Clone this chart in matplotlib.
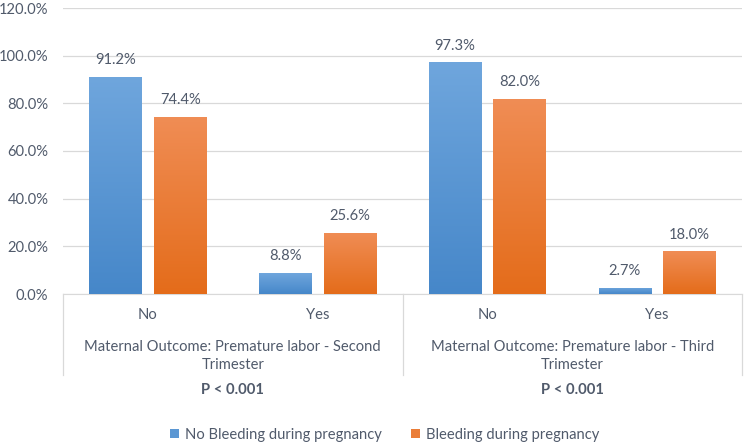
import numpy as np
import matplotlib
matplotlib.use("Agg")
import matplotlib.pyplot as plt
from matplotlib.colors import LinearSegmentedColormap
from matplotlib.ticker import FuncFormatter

plt.rcParams['font.family'] = ['Lato', 'DejaVu Sans']

# data
outcome = ["No", "Yes", "No", "Yes"]
groups = ["Maternal Outcome: Premature labor - Second\nTrimester",
          "Maternal Outcome: Premature labor - Third\nTrimester"]
p_values = ["P < 0.001", "P < 0.001"]
no_bleeding = [91.2, 8.8, 97.3, 2.7]
bleeding = [74.4, 25.6, 82.0, 18.0]
series_names = ["No Bleeding during pregnancy", "Bleeding during pregnancy"]

txt_col = "#505A6B"
grid_col = "#D9D9D9"
fs = 10.6
W, H = 752, 445

fig = plt.figure(figsize=(W / 100, H / 100), dpi=100)
ax = fig.add_axes([63 / W, 1 - 294 / H, (742 - 63) / W, (294 - 8) / H])

x = np.arange(len(outcome))
bw = 0.31
off = 0.19

blue_cm = LinearSegmentedColormap.from_list("b", ["#4687C9", "#6FA6DD"])
orange_cm = LinearSegmentedColormap.from_list("o", ["#E46C1A", "#F08D55"])


def grad_bars(xs, vals, cmap, label):
    bars = ax.bar(xs, vals, width=bw, color=cmap(0.5), label=label, zorder=2)
    grad = np.linspace(0, 1, 256).reshape(-1, 1)
    for b in bars:
        x0, y0 = b.get_x(), b.get_y()
        im = ax.imshow(grad, cmap=cmap, origin="lower", aspect="auto",
                       extent=[x0, x0 + b.get_width(), y0, y0 + b.get_height()],
                       zorder=3)
        im.set_clip_path(b)
    return bars


b1 = grad_bars(x - off, no_bleeding, blue_cm, series_names[0])
b2 = grad_bars(x + off, bleeding, orange_cm, series_names[1])

for xs, vals in [(x - off, no_bleeding), (x + off, bleeding)]:
    for xi, v in zip(xs, vals):
        ax.text(xi, v + 4.0, f"{v:.1f}%", ha="center", va="bottom",
                fontsize=fs, color=txt_col)

ax.set_xlim(-0.5, len(outcome) - 0.5)
ax.set_ylim(0, 120)
ax.set_yticks(np.arange(0, 121, 20))
ax.yaxis.set_major_formatter(FuncFormatter(lambda v, p: f"{v:.1f}%"))
ax.tick_params(axis="y", length=0, labelsize=fs, labelcolor=txt_col, pad=10.5)
ax.set_xticks([])
ax.grid(axis="y", color=grid_col, linewidth=0.9, zorder=0)
ax.set_axisbelow(True)
for s in ["top", "right", "left"]:
    ax.spines[s].set_visible(False)
ax.spines["bottom"].set_color(grid_col)

# multi-level category axis
trans = ax.get_xaxis_transform()
for xi, lab in zip(x, outcome):
    ax.text(xi, -21 / 286, lab, transform=trans, ha="center", va="center",
            fontsize=fs, color=txt_col)
for gi, (g, p) in enumerate(zip(groups, p_values)):
    xc = 2 * gi + 0.5
    ax.text(xc, -62 / 286, g, transform=trans, ha="center", va="center",
            fontsize=fs, color=txt_col, linespacing=1.4)
    ax.text(xc, -96 / 286, p, transform=trans, ha="center", va="center",
            fontsize=fs, color=txt_col, fontweight="bold")
for xs in [-0.5, 1.5, 3.5]:
    ax.plot([xs, xs], [0, -81 / 286], transform=trans, color=grid_col,
            linewidth=0.9, clip_on=False)

leg = fig.legend(handles=[b1, b2], labels=series_names, loc="center",
                 bbox_to_anchor=(385 / W, 1 - 435 / H), ncol=2, frameon=False,
                 fontsize=fs, handlelength=0.6, handleheight=0.6,
                 handletextpad=0.4, columnspacing=2.0)
for t in leg.get_texts():
    t.set_color(txt_col)

fig.savefig("out.png", dpi=100)
